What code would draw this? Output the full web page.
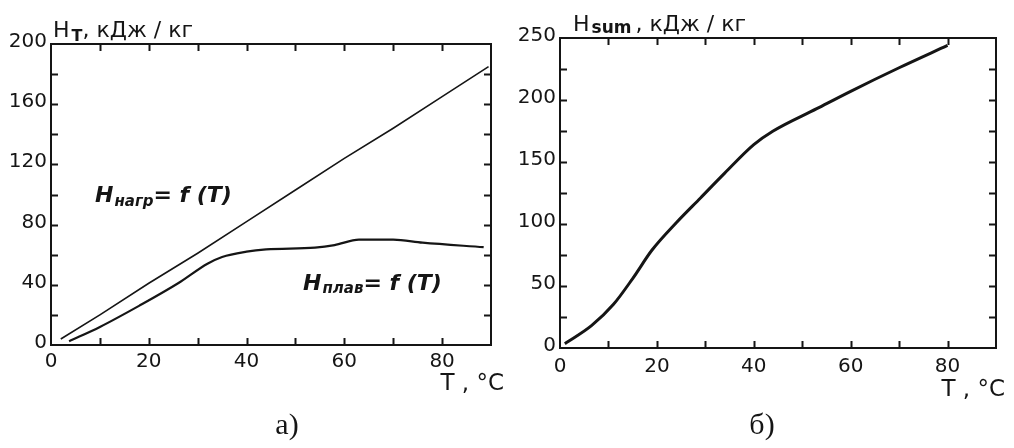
<!DOCTYPE html>
<html>
<head>
<meta charset="utf-8">
<script src="https://cdn.jsdelivr.net/npm/chart.js@4.4.1/dist/chart.umd.min.js"></script>
<style>
  html, body { margin: 0; padding: 0; background: #fff; }
  #wrap { position: relative; width: 1014px; height: 448px; overflow: hidden; }
  canvas { position: absolute; top: 0; }
</style>
</head>
<body>
<div id="wrap">
  <canvas id="chartA" style="left:0"></canvas>
  <canvas id="chartB" style="left:507px"></canvas>
</div>
<script>
// === DATA ===
// a) H_нагр = f(T), H_плав = f(T)
const heatT = [2, 10, 20, 30, 40, 50, 60, 70, 80, 89.5];
const heatH = [4, 20, 41, 61, 82, 103, 124, 144, 165, 185];
const meltT = [3.7, 10, 18, 26, 32, 35, 40, 44, 54, 58, 63, 70, 76, 88.5];
const meltH = [2.5, 12, 26, 41, 54, 58.5, 62, 63.5, 64.7, 66.4, 70, 70, 68, 65];
// б) H_sum = f(T)
const sumT = [1, 6.5, 11, 15, 19, 24, 29, 34, 40, 44, 53, 60, 70, 80];
const sumH = [3.5, 18, 35, 56, 79, 101, 121, 141, 164, 175, 193, 207, 226, 244];

// tick labels
const xTickValues = [0, 20, 40, 60, 80];
const leftYTickValues = [0, 40, 80, 120, 160, 200];
const rightYTickValues = [0, 50, 100, 150, 200, 250];

const INK = '#151515';
const SANS = "'DejaVu Sans', Verdana, sans-serif";
const SERIF = "'Liberation Serif', 'Times New Roman', serif";

function toPoints(xs, ys) {
    return xs.map((x, i) => ({ x: x, y: ys[i] }));
}

// text with a subscript part in the middle
function drawSubText(ctx, x, y, parts) {
    let cx = x;
    parts.forEach(p => {
        ctx.font = p.font;
        ctx.fillText(p.text, cx, y + (p.dy || 0));
        cx += ctx.measureText(p.text).width + (p.gap || 0);
    });
}

// === frame with inward ticks on all four sides, labels, captions ===
const framePlugin = {
    id: 'frame',
    afterDatasetsDraw(chart, args, opts) {
        const { ctx, chartArea: a, scales: { x, y } } = chart;
        ctx.save();
        ctx.strokeStyle = INK;
        ctx.fillStyle = INK;
        ctx.lineWidth = 2;
        ctx.strokeRect(a.left, a.top, a.right - a.left, a.bottom - a.top);

        const tl = 7;
        ctx.beginPath();
        for (let v = opts.xStep; v < x.max; v += opts.xStep) {
            const px = Math.round(x.getPixelForValue(v)) + 0.5;
            ctx.moveTo(px, a.bottom); ctx.lineTo(px, a.bottom - tl);
            ctx.moveTo(px, a.top); ctx.lineTo(px, a.top + tl);
        }
        for (let v = opts.yStep; v < y.max; v += opts.yStep) {
            const py = Math.round(y.getPixelForValue(v)) + 0.5;
            ctx.moveTo(a.left, py); ctx.lineTo(a.left + tl, py);
            ctx.moveTo(a.right, py); ctx.lineTo(a.right - tl, py);
        }
        ctx.stroke();

        // tick labels
        ctx.font = '20px ' + SANS;
        ctx.textBaseline = 'alphabetic';
        ctx.textAlign = 'center';
        xTickValues.forEach(v => {
            ctx.fillText(String(v), x.getPixelForValue(v), a.bottom + opts.xLabelDy);
        });
        ctx.textAlign = 'right';
        opts.yTicks.forEach(v => {
            ctx.fillText(String(v), a.left - 4, y.getPixelForValue(v) + 3);
        });

        // axis title top
        ctx.textAlign = 'left';
        drawSubText(ctx, opts.titleX, opts.titleY, opts.title);

        // T, °C
        ctx.font = '23px ' + SANS;
        ctx.textAlign = 'right';
        ctx.fillText('T , \u00B0C', opts.unitX, opts.unitY);

        // caption
        ctx.font = '30px ' + SERIF;
        ctx.textAlign = 'center';
        ctx.fillText(opts.caption, opts.captionX, 434);

        // curve labels
        ctx.textAlign = 'left';
        (opts.notes || []).forEach(n => drawSubText(ctx, n.x, n.y, n.parts));
        ctx.restore();
    }
};

function lineSet(xs, ys, width, tension) {
    return {
        data: toPoints(xs, ys),
        showLine: true,
        borderColor: INK,
        borderWidth: width,
        pointRadius: 0,
        tension: tension,
        cubicInterpolationMode: tension ? 'monotone' : 'default',
        fill: false
    };
}

function makeChart(id, datasets, yMax, padding, frame) {
    const canvas = document.getElementById(id);
    canvas.width = 507;
    canvas.height = 448;
    return new window.Chart(canvas.getContext('2d'), {
        type: 'scatter',
        data: { datasets: datasets },
        options: {
            responsive: false,
            animation: false,
            layout: { padding: padding },
            plugins: { legend: { display: false }, tooltip: { enabled: false }, frame: frame },
            scales: {
                x: { type: 'linear', min: 0, max: 90, display: false },
                y: { type: 'linear', min: 0, max: yMax, display: false }
            }
        },
        plugins: [framePlugin]
    });
}

const noteMain = 'italic bold 22px ' + SANS;
const noteSub = 'italic bold 15px ' + SANS;

makeChart('chartA',
    [lineSet(heatT, heatH, 1.6, 0), lineSet(meltT, meltH, 2.2, 0.3)],
    200,
    { left: 51, top: 44, right: 16, bottom: 103 },
    {
        xStep: 10, yStep: 20, yTicks: leftYTickValues, xLabelDy: 22,
        titleX: 53, titleY: 37,
        title: [
            { text: 'H', font: '22px ' + SANS, gap: 2 },
            { text: 'T', font: 'bold 16px ' + SANS, dy: 4 },
            { text: ', кДж / кг', font: '22px ' + SANS }
        ],
        unitX: 504, unitY: 390,
        caption: 'а)', captionX: 287,
        notes: [
            { x: 95, y: 202, parts: [
                { text: 'H', font: noteMain, gap: 1 },
                { text: 'нагр', font: noteSub, dy: 4 },
                { text: '= f (T)', font: noteMain }
            ] },
            { x: 303, y: 290, parts: [
                { text: 'H', font: noteMain, gap: 1 },
                { text: 'плав', font: noteSub, dy: 3 },
                { text: '= f (T)', font: noteMain }
            ] }
        ]
    });

makeChart('chartB',
    [lineSet(sumT, sumH, 3, 0.3)],
    250,
    { left: 53, top: 38, right: 18, bottom: 100 },
    {
        xStep: 10, yStep: 25, yTicks: rightYTickValues, xLabelDy: 24,
        titleX: 66, titleY: 31,
        title: [
            { text: 'H', font: '22px ' + SANS, gap: 2 },
            { text: 'sum', font: 'bold 17px ' + SANS, dy: 2, gap: 4 },
            { text: ', кДж / кг', font: '22px ' + SANS }
        ],
        unitX: 498, unitY: 396,
        caption: 'б)', captionX: 255
    });
</script>
</body>
</html>
